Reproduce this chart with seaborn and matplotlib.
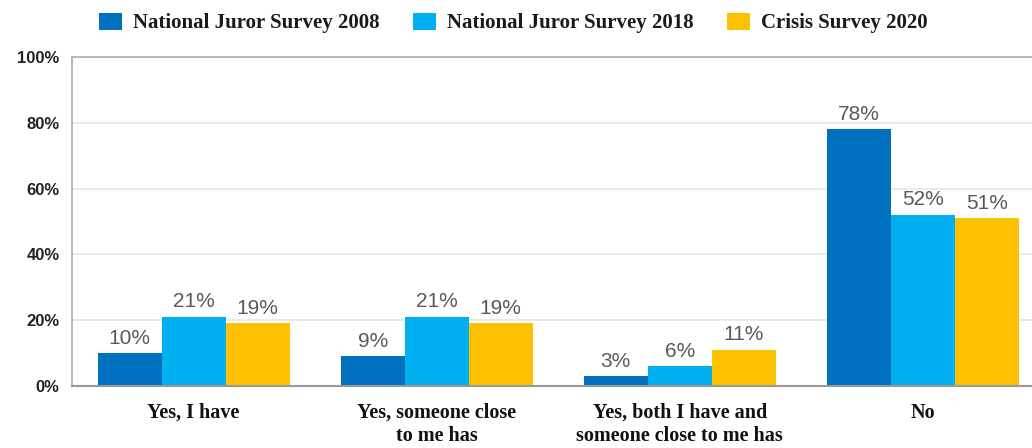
import matplotlib
matplotlib.use("Agg")
import matplotlib.pyplot as plt
import seaborn as sns
import pandas as pd
from matplotlib.ticker import PercentFormatter

categories = ["Yes, I have", "Yes, someone close\nto me has",
              "Yes, both I have and\nsomeone close to me has", "No"]
series = ["National Juror Survey 2008", "National Juror Survey 2018", "Crisis Survey 2020"]
s2008 = [10, 9, 3, 78]
s2018 = [21, 21, 6, 52]
s2020 = [19, 19, 11, 51]
colors = ["#0070C0", "#00B0F0", "#FFC000"]
yticks = [0, 20, 40, 60, 80, 100]

df = pd.DataFrame({
    "category": categories * 3,
    "series": [series[0]] * 4 + [series[1]] * 4 + [series[2]] * 4,
    "value": s2008 + s2018 + s2020,
})

sns.set_theme(style="white")
serif = ["Liberation Serif", "DejaVu Serif"]
sans = ["Liberation Sans", "DejaVu Sans"]

fig = plt.figure(figsize=(10.32, 4.48), dpi=100)
ax = fig.add_axes([0.0698, 0.1384, 0.9302, 0.7344])
sns.barplot(data=df, x="category", y="value", hue="series", palette=colors,
            width=0.79, saturation=1, ax=ax, legend=True, linewidth=0)

for cont in ax.containers:
    ax.bar_label(cont, labels=[f"{v:.0f}%" for v in cont.datavalues], padding=4,
                 fontsize=15, color="#595959", family=sans)

ax.set_ylim(0, 100)
ax.set_xlim(-0.5, 3.449)
ax.set_yticks(yticks)
ax.yaxis.set_major_formatter(PercentFormatter(decimals=0))
for t in ax.get_yticklabels():
    t.set_fontweight("bold")
    t.set_family(sans)
    t.set_fontsize(12)
    t.set_color("#222222")
ax.tick_params(axis="y", length=5, color="#999999", pad=4)
ax.tick_params(axis="x", length=0, pad=12)
for t in ax.get_xticklabels():
    t.set_family(serif)
    t.set_fontsize(14.5)
    t.set_fontweight("bold")
    t.set_color("#111111")
ax.yaxis.grid(True, color="#e6e6e6", linewidth=1.2)
ax.set_axisbelow(True)
ax.set_xlabel("")
ax.set_ylabel("")
ax.spines["right"].set_visible(False)
ax.spines["top"].set_color("#b0b0b0")
ax.spines["left"].set_color("#b0b0b0")
ax.spines["bottom"].set_color("#999999")
ax.spines["bottom"].set_linewidth(1.5)

handles, labels = ax.get_legend_handles_labels()
ax.get_legend().remove()
fig.legend(handles, labels, loc="center left", bbox_to_anchor=(99 / 1032, 1 - 23 / 448),
           ncol=3, frameon=False, prop={"family": serif, "size": 15, "weight": "bold"},
           handlelength=1.1, handleheight=0.9, handletextpad=0.53, columnspacing=1.6,
           borderaxespad=0, borderpad=0, labelcolor="#1a1a1a")

fig.savefig("out.png", dpi=100)
